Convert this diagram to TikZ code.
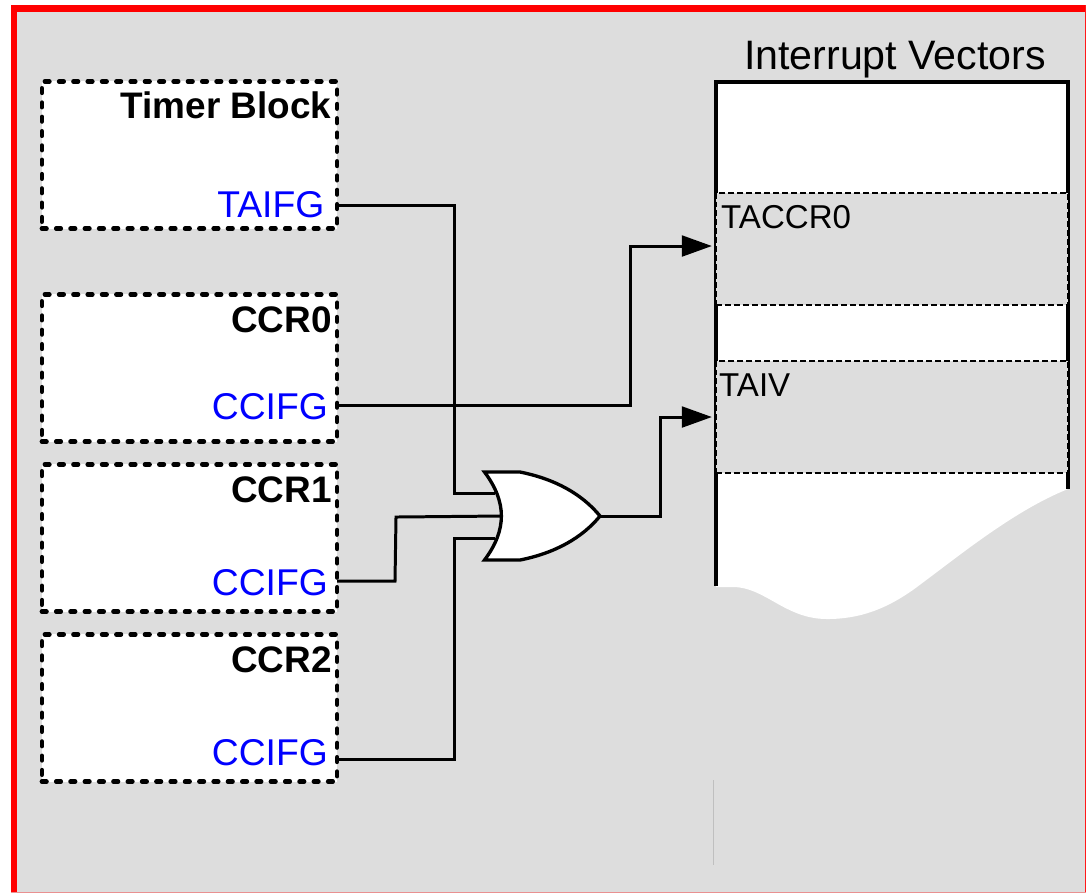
\documentclass[tikz,border=0pt]{standalone}
\usepackage{fontspec}
\setmainfont{Liberation Sans}
\usepackage{xcolor}
\usetikzlibrary{arrows.meta}
\definecolor{custom_red}{HTML}{ff0000}
\definecolor{custom_blue}{HTML}{0000ff}
\definecolor{custom_gray}{HTML}{dddddd}
\tikzset{
  blockbox/.style={draw, fill=white, line width=1.3pt, line cap=round, dash pattern=on 1.3pt off 2.77pt,
    minimum width=2.95cm, minimum height=1.47cm, inner sep=0pt, outer sep=0pt},
  rowbox/.style={draw, fill=custom_gray, line width=0.8pt, dash pattern=on 1.7pt off 0.85pt,
    minimum width=3.52cm, minimum height=1.12cm, inner sep=0pt, outer sep=0pt},
  blocktitle/.style={anchor=base east, inner sep=0pt, font=\fontsize{10.5}{12}\selectfont\bfseries},
  portlabel/.style={anchor=base east, inner sep=0pt, text=custom_blue, font=\fontsize{10.6}{12}\selectfont},
  rowlabel/.style={anchor=base west, inner sep=0pt, font=\fontsize{9.4}{11}\selectfont},
  wire/.style={line width=0.85pt},
  arrowwire/.style={wire, -{Triangle[length=0.3cm, width=0.207cm]}, shorten >=0.04cm}
}
\begin{document}
\begin{tikzpicture}[x=0.01cm, y=-0.01cm]
  \useasboundingbox (0,0) rectangle (1086,893);

  % frame
  \fill[custom_gray] (11,5) rectangle (1086,893);
  \fill[custom_red] (11,5) rectangle (17,893);
  \fill[custom_red] (11,5) rectangle (1086,12);
  \fill[custom_red!90!white] (1084.5,5) rectangle (1086,893);
  \fill[custom_red!35!custom_gray] (11,891.5) rectangle (1086,893);

  % vector table
  \fill[white] (716,82) -- (1068,82) -- (1068,489)
    .. controls (1015,510) and (960,555) .. (917,587)
    .. controls (887,609) and (860,619) .. (827,619)
    .. controls (785,619) and (765,587) .. (733,587) -- (716,587) -- cycle;
  \draw[line width=1.4pt, line cap=butt] (716,586) -- (716,82) -- (1068,82) -- (1068,489);
  \draw[gray!50, line width=0.2pt] (713,780) -- (713,865);
  \node[anchor=base, inner sep=0pt, font=\fontsize{11.7}{14}\selectfont] (title) at (895,69.5) {Interrupt Vectors};
  \node[rowbox] (taccr) at (892,249) {};
  \node[rowbox] (taiv) at (892,417) {};
  \node[rowlabel] (taccrlabel) at (720.5,228) {TACCR0};
  \node[rowlabel] (taivlabel) at (718.5,396) {TAIV};

  % blocks
  \node[blockbox] (timer) at (189.5,155) {};
  \node[blockbox] (ccr0) at (189.5,368) {};
  \node[blockbox] (ccr1) at (189.5,538) {};
  \node[blockbox] (ccr2) at (189.5,708) {};

  \node[blocktitle] (timertitle) at (332,118) {Timer Block};
  \node[blocktitle] (ccr0title) at (332.5,332) {CCR0};
  \node[blocktitle] (ccr1title) at (332.5,502) {CCR1};
  \node[blocktitle] (ccr2title) at (332.5,672) {CCR2};

  \node[portlabel] (taifg) at (325,217) {TAIFG};
  \node[portlabel] (ccifg0) at (328.5,419) {CCIFG};
  \node[portlabel] (ccifg1) at (328.5,595) {CCIFG};
  \node[portlabel] (ccifg2) at (328.5,765) {CCIFG};

  % or gate
  \coordinate (gatein1) at (495,493.5);
  \coordinate (gatein2) at (501,516);
  \coordinate (gatein3) at (495,538);
  \coordinate (gateout) at (600,516);

  \draw[wire] (timer.east |- 0,205) -- (454,205) -- (454,493.5) -- (gatein1);
  \draw[wire] (ccr2.east |- 0,759) -- (454,759) -- (454,538) -- (gatein3);
  \draw[wire] (ccr1.east |- 0,581) -- (395,581) -- (396,517) -- (gatein2);
  \draw[arrowwire] (ccr0.east |- 0,405) -- (630,405) -- (630,246) -- (taccr.west |- 0,246);
  \draw[arrowwire] (gateout) -- (660,516) -- (660,417) -- (taiv.west);

  \draw[fill=white, line width=0.95pt, line join=miter] (484.5,472) -- (520,472)
    .. controls (555,479) and (582,494) .. (gateout)
    .. controls (582,538) and (555,553) .. (520,560) -- (484.5,560)
    .. controls (507,530) and (507,502) .. cycle;
\end{tikzpicture}
\end{document}
